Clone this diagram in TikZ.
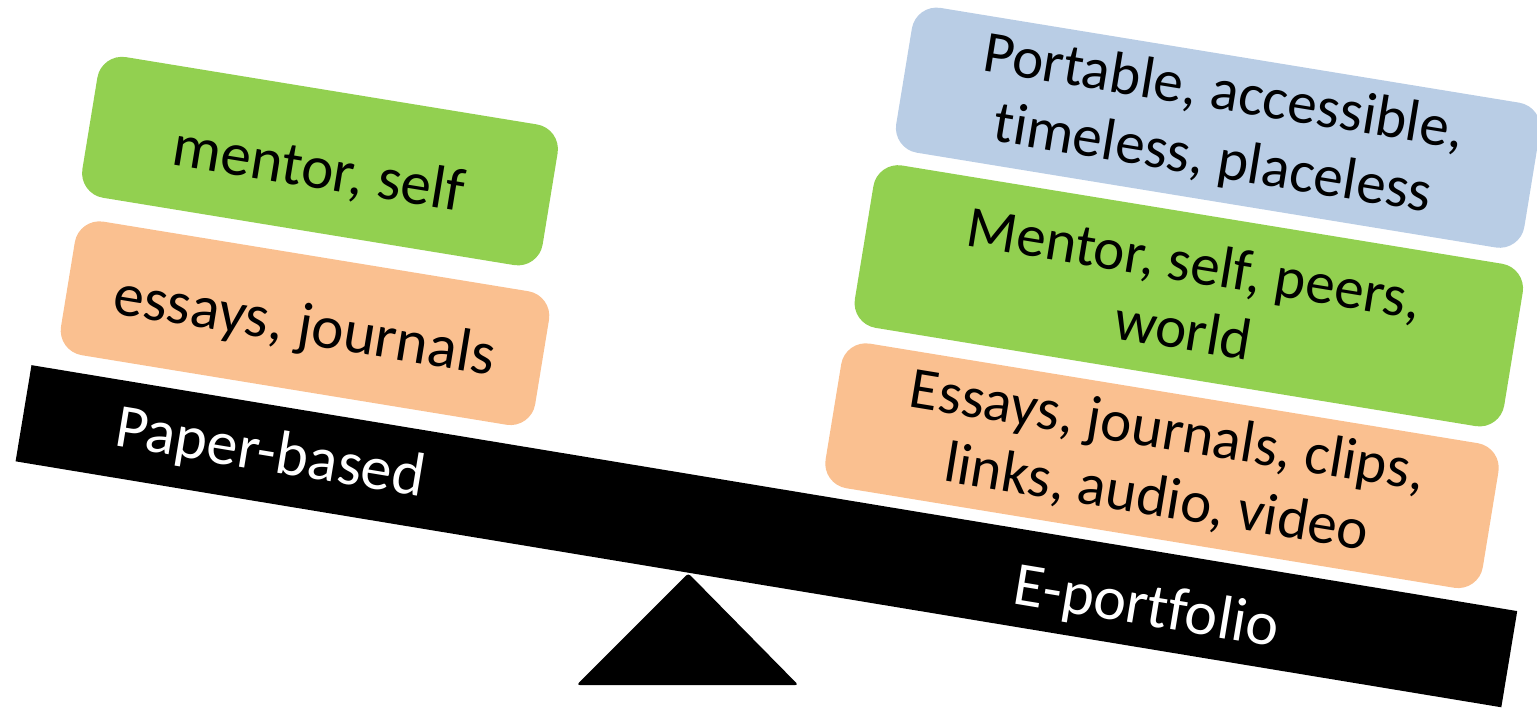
\documentclass[tikz,border=0pt]{standalone}
\usepackage{fontspec}
\setmainfont{Carlito}[Ligatures=NoCommon]
\definecolor{verde}{HTML}{92D050}
\definecolor{arancio}{HTML}{FAC090}
\definecolor{azzurro}{HTML}{B9CDE5}
\tikzset{
    riquadro/.style={rounded corners=12.5pt, rotate=-9.3, inner sep=0pt, align=center},
    piccolo/.style={riquadro, font=\fontsize{30.5}{34}\selectfont},
    grande/.style={riquadro, font=\fontsize{29.5}{33.8}\selectfont},
    etichetta/.style={white, rotate=-9.4, anchor=base, inner sep=0pt, font=\fontsize{31}{34}\selectfont}
}
\begin{document}
\begin{tikzpicture}[x=0.5pt, y=-0.5pt]
    \useasboundingbox (0,0) rectangle (1537,712);
    %trave e fulcro
    \node[fill=black, rotate=-9.4, minimum width=753pt, minimum height=48.75pt, inner sep=0pt] (trave) at (766.4,536.2) {};
    \fill[rounded corners=1.5pt] (688.3,573.3) -- (798.3,685) -- (576.7,685) -- cycle;
    %riquadri a sinistra
    \node[piccolo, fill=verde, minimum width=233.2pt, minimum height=71.25pt, text height=31pt, text depth=3.7pt] (carta1) at (320.0,161.1) {mentor, self};
    \node[piccolo, fill=arancio, minimum width=240.25pt, minimum height=67.65pt, text height=27pt, text depth=5.7pt] (carta2) at (305.0,323.2) {essays, journals};
    %riquadri a destra
    \node[grande, fill=azzurro, minimum width=318.25pt, minimum height=73.35pt] (eport1) at (1218.1,127.7) {Portable, accessible,\\timeless, placeless};
    \node[grande, fill=verde, minimum width=329pt, minimum height=82.25pt] (eport2) at (1188.8,295.8) {Mentor, self, peers,\\world};
    \node[grande, fill=arancio, minimum width=333pt, minimum height=73.25pt] (eport3) at (1162.0,465.7) {Essays, journals, clips,\\links, audio, video};
    %etichette
    \node[etichetta] (lcarta) at (267.3,471.4) {Paper-based};
    \node[etichetta] (leport) at (1143.5,625.2) {E-portfolio};
\end{tikzpicture}
\end{document}
